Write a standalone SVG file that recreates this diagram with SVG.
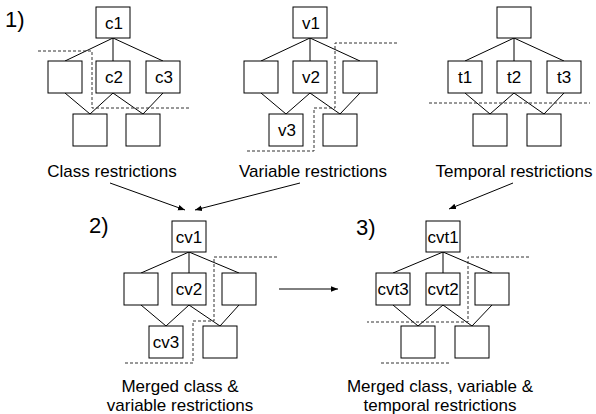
<svg xmlns="http://www.w3.org/2000/svg" width="596" height="414" viewBox="0 0 596 414">
  <style>
    .box { fill: #ffffff; stroke: #000000; stroke-width: 1; }
    .edge { stroke: #000000; stroke-width: 1; fill: none; }
    .cut { stroke: #333333; stroke-width: 1; fill: none; stroke-dasharray: 3 2; }
    .arrow { stroke: #000000; stroke-width: 1; fill: none; marker-end: url(#head); }
    .lbl { font-family: "Liberation Sans", Arial, sans-serif; font-size: 17px; fill: #000000; text-anchor: middle; }
    .cap { font-family: "Liberation Sans", Arial, sans-serif; font-size: 17px; fill: #000000; text-anchor: middle; }
    .num { font-family: "Liberation Sans", Arial, sans-serif; font-size: 22px; fill: #000000; }
  </style>
  <defs>
    <marker id="head" viewBox="0 0 10 10" refX="10" refY="5" markerWidth="7" markerHeight="7" orient="auto" markerUnits="userSpaceOnUse">
      <path d="M0,1 L10,5 L0,9 z" fill="#000000"/>
    </marker>
  </defs>

  <rect width="596" height="414" fill="#ffffff"/>

  <!-- step numbers -->
  <text class="num" x="5" y="27">1)</text>
  <text class="num" x="89" y="233">2)</text>
  <text class="num" x="356" y="235">3)</text>

  <!-- connectors: lattice edges, restriction cuts and flow arrows -->
  <g id="connectors">
    <!-- class lattice -->
    <path class="edge" d="M113,38 L65,61 M113,38 L113,61 M113,38 L163,61 M65,93 L90,114 M113,93 L90,114 M113,93 L143,114 M163,93 L143,114"/>
    <path class="cut" d="M38,51 L92,51 L92,108 L190,108"/>
    <!-- variable lattice -->
    <path class="edge" d="M310,38 L261,61 M310,38 L310,61 M310,38 L360,61 M261,93 L286,114 M310,93 L286,114 M310,93 L340,114 M360,93 L340,114"/>
    <path class="cut" d="M397,43 L335,43 L335,108 L314,108 L314,151 L245,151"/>
    <!-- temporal lattice -->
    <path class="edge" d="M514,38 L465,61 M514,38 L514,61 M514,38 L564,61 M465,93 L490,114 M514,93 L490,114 M514,93 L544,114 M564,93 L544,114"/>
    <path class="cut" d="M429,103 L590,103"/>
    <!-- merged class and variable lattice -->
    <path class="edge" d="M189,252 L141,273 M189,252 L189,273 M189,252 L239,273 M141,305 L166,326 M189,305 L166,326 M189,305 L220,326 M239,305 L220,326"/>
    <path class="cut" d="M277,257 L214,257 L214,321 L193,321 L193,363 L125,363"/>
    <!-- merged class, variable and temporal lattice -->
    <path class="edge" d="M443,252 L393,273 M443,252 L443,273 M443,252 L492,273 M393,305 L418,326 M443,305 L418,326 M443,305 L472,326 M492,305 L472,326"/>
    <path class="cut" d="M529,257 L468,257 L468,322 L367,322 M381,363 L449,363"/>
    <!-- flow arrows -->
    <line class="arrow" x1="110" y1="183" x2="185" y2="210"/>
    <line class="arrow" x1="300" y1="183" x2="195" y2="210"/>
    <line class="arrow" x1="513" y1="183" x2="449" y2="209"/>
    <line class="arrow" x1="279" y1="289" x2="338" y2="289"/>
  </g>

  <!-- class restrictions -->
  <g id="c1"><rect class="box" x="96" y="7" width="34" height="31"/><text class="lbl" x="114" y="29">c1</text></g>
  <g id="c-mid-left"><rect class="box" x="48" y="61" width="34" height="32"/></g>
  <g id="c2"><rect class="box" x="96" y="61" width="34" height="32"/><text class="lbl" x="114" y="83">c2</text></g>
  <g id="c3"><rect class="box" x="146" y="61" width="34" height="32"/><text class="lbl" x="164" y="83">c3</text></g>
  <g id="c-bot-left"><rect class="box" x="73" y="114" width="34" height="32"/></g>
  <g id="c-bot-right"><rect class="box" x="126" y="114" width="34" height="32"/></g>
  <text class="cap" x="112" y="177">Class restrictions</text>

  <!-- variable restrictions -->
  <g id="v1"><rect class="box" x="293" y="7" width="34" height="31"/><text class="lbl" x="311" y="29">v1</text></g>
  <g id="v-mid-left"><rect class="box" x="244" y="61" width="34" height="32"/></g>
  <g id="v2"><rect class="box" x="293" y="61" width="34" height="32"/><text class="lbl" x="311" y="83">v2</text></g>
  <g id="v-mid-right"><rect class="box" x="343" y="61" width="34" height="32"/></g>
  <g id="v3"><rect class="box" x="269" y="114" width="34" height="32"/><text class="lbl" x="287" y="136">v3</text></g>
  <g id="v-bot-right"><rect class="box" x="323" y="114" width="34" height="32"/></g>
  <text class="cap" x="313" y="177">Variable restrictions</text>

  <!-- temporal restrictions -->
  <g id="t-top"><rect class="box" x="497" y="7" width="34" height="31"/></g>
  <g id="t1"><rect class="box" x="448" y="61" width="34" height="32"/><text class="lbl" x="465" y="83">t1</text></g>
  <g id="t2"><rect class="box" x="497" y="61" width="34" height="32"/><text class="lbl" x="514" y="83">t2</text></g>
  <g id="t3"><rect class="box" x="547" y="61" width="34" height="32"/><text class="lbl" x="564" y="83">t3</text></g>
  <g id="t-bot-left"><rect class="box" x="473" y="114" width="34" height="32"/></g>
  <g id="t-bot-right"><rect class="box" x="527" y="114" width="34" height="32"/></g>
  <text class="cap" x="514" y="177">Temporal restrictions</text>

  <!-- merged class & variable -->
  <g id="cv1"><rect class="box" x="172" y="221" width="34" height="31"/><text class="lbl" x="189" y="243">cv1</text></g>
  <g id="cv-mid-left"><rect class="box" x="124" y="273" width="34" height="32"/></g>
  <g id="cv2"><rect class="box" x="172" y="273" width="34" height="32"/><text class="lbl" x="189" y="295">cv2</text></g>
  <g id="cv-mid-right"><rect class="box" x="222" y="273" width="34" height="32"/></g>
  <g id="cv3"><rect class="box" x="149" y="326" width="34" height="32"/><text class="lbl" x="166" y="348">cv3</text></g>
  <g id="cv-bot-right"><rect class="box" x="203" y="326" width="34" height="32"/></g>
  <text class="cap" x="180" y="392">Merged class &amp;</text>
  <text class="cap" x="180" y="411">variable restrictions</text>

  <!-- merged class, variable & temporal -->
  <g id="cvt1"><rect class="box" x="426" y="221" width="34" height="31"/><text class="lbl" x="443" y="243">cvt1</text></g>
  <g id="cvt3"><rect class="box" x="376" y="273" width="34" height="32"/><text class="lbl" x="393" y="295">cvt3</text></g>
  <g id="cvt2"><rect class="box" x="426" y="273" width="34" height="32"/><text class="lbl" x="443" y="295">cvt2</text></g>
  <g id="cvt-mid-right"><rect class="box" x="475" y="273" width="34" height="32"/></g>
  <g id="cvt-bot-left"><rect class="box" x="401" y="326" width="34" height="32"/></g>
  <g id="cvt-bot-right"><rect class="box" x="455" y="326" width="34" height="32"/></g>
  <text class="cap" x="440" y="392">Merged class, variable &amp;</text>
  <text class="cap" x="440" y="411">temporal restrictions</text>
</svg>
